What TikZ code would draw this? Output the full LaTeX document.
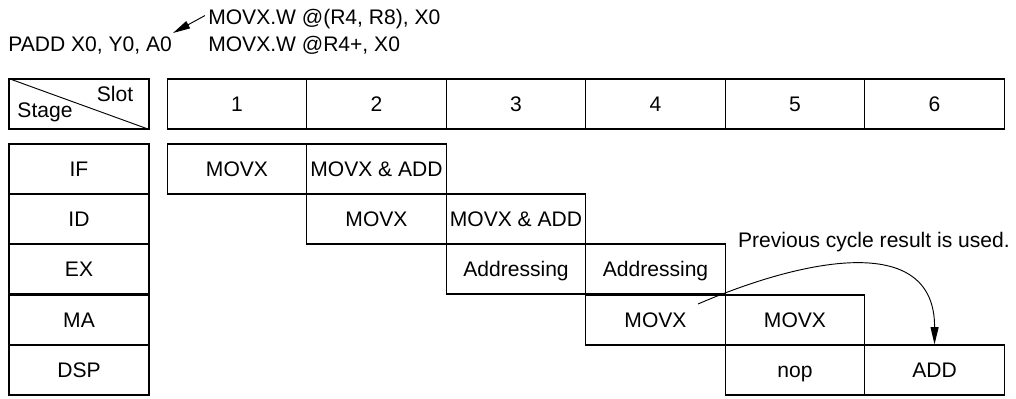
\documentclass[tikz,border=0pt]{standalone}
\usepackage{fontspec}
\setmainfont{Liberation Sans}
\usetikzlibrary{positioning}
\usetikzlibrary{calc}
\usetikzlibrary{arrows.meta}

\tikzset{
  txt/.style={inner sep=0pt, font=\fontsize{15.8}{18}\selectfont},
  cell/.style={txt, draw, line width=0.9pt, minimum width=104.6pt, minimum height=37.5pt, inner sep=1pt, text height=11.3pt, text depth=0pt},
  stagecell/.style={cell, minimum width=105pt},
  tip/.style={-{Triangle[length=13pt,width=6pt]}, line width=0.7pt},
}

\begin{document}
\begin{tikzpicture}[x=0.75pt,y=-0.75pt]
\useasboundingbox (0,0) rectangle (1016,399);

\node[txt, anchor=base west] (padd) at (8,52) {PADD X0, Y0, A0};
\node[txt, anchor=base west] (mv1) at (208,25) {MOVX.W @(R4, R8), X0};
\node[txt, anchor=base west] (mv2) at (208,52) {MOVX.W @R4+, X0};
\coordinate (pt) at (173,33);
\draw[tip] ($(mv1.west)+(-3,-4)$) -- (pt);

\node[stagecell] (corner) at (79,104) {};
\draw[line width=0.7pt] (corner.north west) -- (corner.south east);
\node[txt] (slot) at (115,94) {Slot};
\node[txt] (stage) at (45,112) {Stage};

\node[stagecell] (sIF) at (79,169) {IF};
\node[stagecell] (sID) at (79,219) {ID};
\node[stagecell] (sEX) at (79,269) {EX};
\node[stagecell] (sMA) at (79,320) {MA};
\node[stagecell] (sDSP) at (79,370) {DSP};

\foreach \i in {1,...,6}
  \node[cell] (slot\i) at ({97.5+139.5*\i},104) {\i};

\node[cell] (if1) at (slot1 |- sIF) {MOVX};
\node[cell] (if2) at (slot2 |- sIF) {MOVX \& ADD};
\node[cell] (id2) at (slot2 |- sID) {MOVX};
\node[cell] (id3) at (slot3 |- sID) {MOVX \& ADD};
\node[cell] (ex3) at (slot3 |- sEX) {Addressing};
\node[cell] (ex4) at (slot4 |- sEX) {Addressing};
\node[cell] (ma4) at (slot4 |- sMA) {MOVX};
\node[cell] (ma5) at (slot5 |- sMA) {MOVX};
\node[cell] (dsp5) at (slot5 |- sDSP) {nop};
\node[cell] (dsp6) at (slot6 |- sDSP) {ADD};

\node[txt, anchor=base east] (note) at (1010,247) {Previous cycle result is used.};
\coordinate (src) at (698,304);
\draw[tip] (src) .. controls (800,260) and (935,230) .. (dsp6.north);
\end{tikzpicture}
\end{document}
